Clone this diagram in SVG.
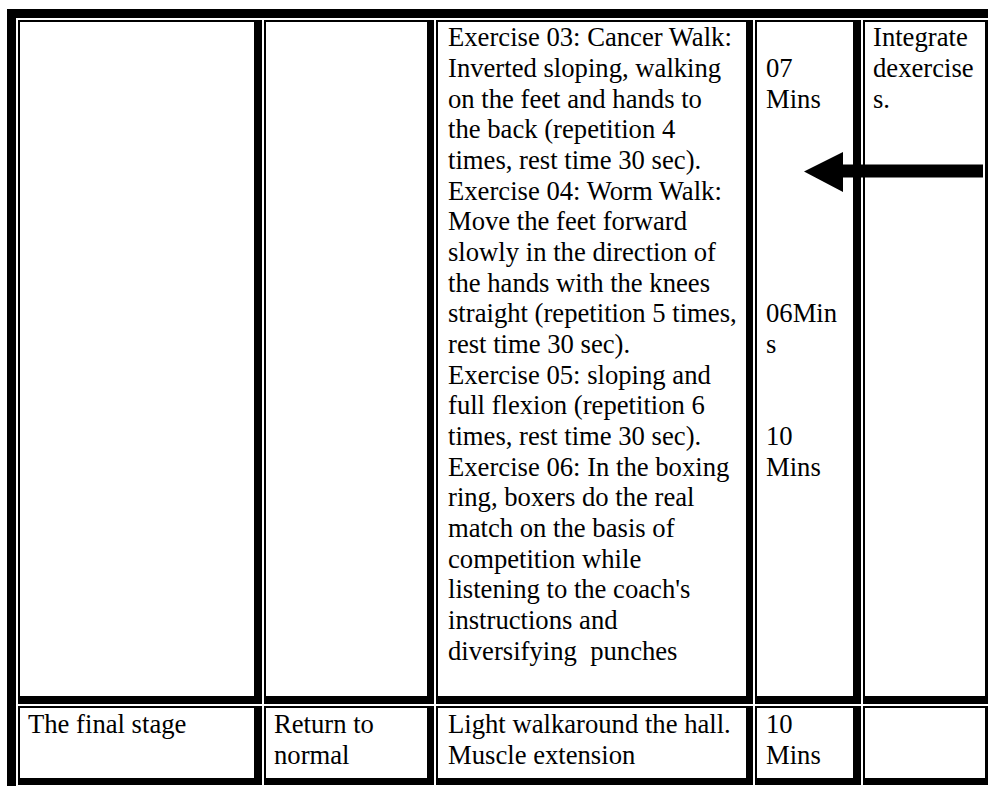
<svg xmlns="http://www.w3.org/2000/svg" width="988" height="786" viewBox="0 0 988 786">
<style>
.b{fill:#000}
.w{fill:#fff}
text{font-family:"Liberation Serif","Times New Roman",serif;font-size:26.67px;fill:#000}
.pre{white-space:pre}
</style>
<defs>
<marker id="ah" viewBox="0 0 10 10" refX="0" refY="5" markerWidth="1" markerHeight="1" orient="auto"><path d="M0,0L10,5L0,10Z"/></marker>
</defs>
<rect width="988" height="786" fill="#fff"/>
<path class="b" d="M7,9H988V18H16V786H7Z"/>
<g id="row1-stage">
<rect class="b" x="18" y="20" width="244" height="684"/>
<rect class="w" x="20" y="22" width="234" height="674"/>
</g>
<g id="row1-phase">
<rect class="b" x="264" y="20" width="170" height="684"/>
<rect class="w" x="266" y="22" width="161" height="674"/>
</g>
<g id="row1-exercises">
<rect class="b" x="436" y="20" width="317" height="684"/>
<rect class="w" x="438" y="22" width="308" height="674"/>
<text x="448" y="46.3">Exercise 03: Cancer Walk:</text>
<text x="448" y="77">Inverted sloping, walking</text>
<text x="448" y="107.6">on the feet and hands to</text>
<text x="448" y="138.3">the back (repetition 4</text>
<text x="448" y="169">times, rest time 30 sec).</text>
<text x="448" y="199.6">Exercise 04: Worm Walk:</text>
<text x="448" y="230.3">Move the feet forward</text>
<text x="448" y="261">slowly in the direction of</text>
<text x="448" y="291.6">the hands with the knees</text>
<text x="448" y="322.3">straight (repetition 5 times,</text>
<text x="448" y="353">rest time 30 sec).</text>
<text x="448" y="383.6">Exercise 05: sloping and</text>
<text x="448" y="414.3">full flexion (repetition 6</text>
<text x="448" y="445">times, rest time 30 sec).</text>
<text x="448" y="475.6">Exercise 06: In the boxing</text>
<text x="448" y="506.3">ring, boxers do the real</text>
<text x="448" y="537">match on the basis of</text>
<text x="448" y="567.6">competition while</text>
<text x="448" y="598.3">listening to the coach's</text>
<text x="448" y="629">instructions and</text>
<text class="pre" x="448" y="659.6">diversifying  punches</text>
</g>
<g id="row1-time">
<rect class="b" x="755" y="20" width="106" height="684"/>
<rect class="w" x="757" y="22" width="96" height="674"/>
<text x="766" y="77">07</text>
<text x="766" y="107.6">Mins</text>
<text x="766" y="322.3">06Min</text>
<text x="766" y="353">s</text>
<text x="766" y="445">10</text>
<text x="766" y="475.6">Mins</text>
</g>
<g id="row1-notes">
<rect class="b" x="863" y="20" width="130" height="684"/>
<rect class="w" x="865" y="22" width="120" height="674"/>
<text x="873" y="46.3">Integrate</text>
<text x="873" y="77">dexercise</text>
<text x="873" y="107.6">s.</text>
</g>
<g id="row2-stage">
<rect class="b" x="18" y="706" width="244" height="79"/>
<rect class="w" x="20" y="708" width="234" height="70"/>
<text x="28" y="733">The final stage</text>
</g>
<g id="row2-phase">
<rect class="b" x="264" y="706" width="170" height="79"/>
<rect class="w" x="266" y="708" width="161" height="70"/>
<text x="274" y="733">Return to</text>
<text x="274" y="763.6">normal</text>
</g>
<g id="row2-exercises">
<rect class="b" x="436" y="706" width="317" height="79"/>
<rect class="w" x="438" y="708" width="308" height="70"/>
<text x="448" y="733">Light walkaround the hall.</text>
<text x="448" y="763.6">Muscle extension</text>
</g>
<g id="row2-time">
<rect class="b" x="755" y="706" width="106" height="79"/>
<rect class="w" x="757" y="708" width="96" height="70"/>
<text x="766" y="733">10</text>
<text x="766" y="763.6">Mins</text>
</g>
<g id="row2-notes">
<rect class="b" x="863" y="706" width="130" height="79"/>
<rect class="w" x="865" y="708" width="120" height="70"/>
</g>
<g id="connectors">
<path class="b" d="M983,164.5V177.5H843V192L804,171.5L843,152V164.5Z"/>
</g>
</svg>
